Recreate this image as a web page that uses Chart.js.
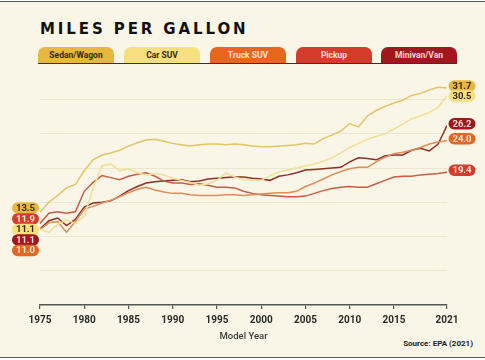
<!DOCTYPE html>
<html>
<head>
<meta charset="utf-8">
<script src="https://cdn.jsdelivr.net/npm/chart.js@4.4.0/dist/chart.umd.min.js"></script>
<style>
  html, body { margin: 0; padding: 0; background: #fff; }
  #wrap { position: absolute; left: 0; top: 1px; width: 485px; height: 355px;
          background: #f9f6e7; border-top: 1.5px solid #5a5a5a; border-bottom: 1.5px solid #5a5a5a; }
  #title { position: absolute; left: 40px; top: 20px; font: bold 15px "DejaVu Sans", sans-serif;
           letter-spacing: 2.9px; color: #111; }
  .tab { position: absolute; top: 47px; height: 16px; width: 76px; border-radius: 7px 7px 0 0;
         font: bold 8.5px "Roboto", "Liberation Sans", sans-serif; text-align: center; line-height: 17px; }
  #rule { position: absolute; left: 38px; top: 62.5px; width: 419px; height: 1.5px; background: #333; }
  #source { position: absolute; right: 12px; top: 339px; font: bold 8px "Roboto", "Liberation Sans", sans-serif; color: #222; }
  canvas { position: absolute; left: 0; top: 0; }
</style>
</head>
<body>
<div id="wrap"></div>
<div id="title">MILES PER GALLON</div>
<div id="tabs"></div>
<div id="rule"></div>
<div id="source">Source: EPA (2021)</div>
<canvas id="grafica" width="485" height="360"></canvas>
<script>
// dades llegides de la gràfica (EPA 2021)
const years = [1975, 1976, 1977, 1978, 1979, 1980, 1981, 1982, 1983, 1984, 1985, 1986, 1987, 1988, 1989, 1990,
  1991, 1992, 1993, 1994, 1995, 1996, 1997, 1998, 1999, 2000, 2001, 2002, 2003, 2004, 2005, 2006, 2007, 2008,
  2009, 2010, 2011, 2012, 2013, 2014, 2015, 2016, 2017, 2018, 2019, 2020, 2021];
const tickYears = [1975, 1980, 1985, 1990, 1995, 2000, 2005, 2010, 2015, 2021];
const gridValues = [5, 10, 15, 20, 25, 30];

const seriesNames = ["Sedan/Wagon", "Car SUV", "Truck SUV", "Pickup", "Minivan/Van"];

const sedanWagon = [13.5, 15.0, 16.0, 17.1, 17.6, 19.6, 21.2, 21.9, 22.2, 22.6, 23.2, 23.7, 24.1, 24.2, 23.9, 23.6,
  23.4, 23.2, 23.4, 23.5, 23.5, 23.4, 23.5, 23.4, 23.2, 23.1, 23.1, 23.2, 23.3, 23.4, 23.6, 23.5, 24.3, 24.8,
  25.4, 26.5, 26.0, 27.6, 28.4, 29.0, 29.5, 29.9, 30.6, 30.9, 31.4, 31.8, 31.7];
const carSuv = [11.1, 10.6, 11.8, 12.4, 11.9, 13.0, 17.0, 20.3, 20.6, 19.6, 19.9, 19.3, 19.0, 19.2, 19.0, 18.5,
  18.2, 17.9, 17.5, 17.7, 18.2, 19.3, 18.7, 18.3, 18.2, 18.2, 18.9, 19.4, 19.7, 20.0, 20.3, 20.6, 21.0, 21.5,
  22.2, 23.0, 23.6, 24.2, 24.6, 25.0, 25.7, 26.4, 27.2, 27.6, 28.1, 28.9, 30.5];
const truckSuv = [11.0, 12.0, 12.2, 10.6, 12.2, 14.0, 14.4, 14.9, 15.3, 15.8, 16.4, 16.9, 17.2, 16.8, 16.5, 16.3,
  16.3, 16.1, 16.0, 16.0, 16.0, 16.1, 16.1, 16.0, 16.1, 16.2, 16.3, 16.4, 16.4, 16.6, 17.3, 17.8, 18.4, 19.0,
  19.5, 19.9, 20.1, 20.1, 20.9, 21.6, 22.1, 22.3, 22.6, 23.0, 23.5, 23.8, 24.0];
const pickup = [11.9, 13.4, 13.6, 13.4, 13.6, 16.6, 17.9, 18.9, 18.6, 18.3, 18.8, 19.1, 19.3, 18.8, 18.1, 17.8,
  17.8, 17.6, 17.7, 17.5, 17.2, 17.2, 17.1, 16.6, 16.3, 16.1, 16.0, 15.9, 15.8, 15.8, 15.9, 16.3, 16.7, 17.0,
  17.2, 17.3, 17.2, 17.2, 17.7, 18.2, 18.7, 18.8, 18.8, 19.0, 19.1, 19.2, 19.4];
const minivanVan = [11.1, 12.3, 12.7, 11.6, 12.5, 14.3, 14.9, 15.0, 15.2, 15.9, 16.7, 17.3, 17.8, 18.0, 18.1, 18.2,
  18.3, 18.0, 18.1, 18.4, 18.5, 18.6, 18.7, 18.7, 18.5, 18.4, 18.2, 18.8, 19.0, 19.3, 19.7, 19.8, 19.9, 20.0,
  20.1, 20.9, 21.5, 21.4, 21.2, 21.8, 21.9, 21.9, 22.6, 22.9, 22.5, 23.5, 26.2];

const tabColors = ["#e6b83f", "#f6df7e", "#e8651f", "#d63c2c", "#a2161d"];
const tabText = ["#3a2808", "#3a2808", "#fbe3d2", "#fbe3d2", "#f7d8d2"];
const lineColors = ["#e4c466", "#f0df96", "#df8c58", "#c95c42", "#8f3028"];

// pestanyes de la llegenda
const tabLeft = [38, 124, 210, 296, 381];
const tabs = document.getElementById("tabs");
seriesNames.forEach((n, i) => {
  const d = document.createElement("div");
  d.className = "tab";
  d.style.left = tabLeft[i] + "px";
  d.style.background = tabColors[i];
  d.style.color = tabText[i];
  d.textContent = n;
  tabs.appendChild(d);
});

const allSeries = [sedanWagon, carSuv, truckSuv, pickup, minivanVan];

const data = {
  labels: years,
  datasets: allSeries.map((s, i) => ({
    label: seriesNames[i],
    data: s,
    borderColor: lineColors[i],
    borderWidth: 1.5,
    pointRadius: 0,
    tension: 0,
    fill: false
  }))
};

// separa les etiquetes perquè no es trepitgin
function spread(items, gap, k) {
  items.sort((a, b) => a.y - b.y);
  const nat = items.reduce((s, it) => s + it.y, 0) / items.length;
  items.forEach(it => it.py = it.y);
  for (let i = 1; i < items.length; i++) {
    if (items[i].py - items[i - 1].py < gap) items[i].py = items[i - 1].py + gap;
  }
  const placed = items.reduce((s, it) => s + it.py, 0) / items.length;
  const shift = (placed - nat) * k;
  items.forEach(it => it.py -= shift);
  return items;
}

function pill(ctx, cx, cy, text, bg, fg) {
  const w = 27, h = 11.5, r = 5.75;
  ctx.beginPath();
  ctx.roundRect(cx - w / 2, cy - h / 2, w, h, r);
  ctx.fillStyle = bg;
  ctx.fill();
  ctx.fillStyle = fg;
  ctx.font = "bold 9.5px Roboto, 'Liberation Sans', sans-serif";
  ctx.textAlign = "center";
  ctx.textBaseline = "middle";
  ctx.fillText(text, cx, cy + 0.5);
}

const endLabels = {
  id: "endLabels",
  afterDatasetsDraw(chart) {
    const ctx = chart.ctx;
    const ys = chart.scales.y;
    const left = [], right = [];
    chart.data.datasets.forEach((ds, i) => {
      const first = ds.data[0], last = ds.data[ds.data.length - 1];
      left.push({ i: i, v: first, y: ys.getPixelForValue(first) });
      right.push({ i: i, v: last, y: ys.getPixelForValue(last) });
    });
    ctx.save();
    spread(left, 10.5, 0.5).forEach(it => pill(ctx, 25.5, it.py, it.v.toFixed(1), tabColors[it.i], tabText[it.i]));
    spread(right, 10, 1).forEach(it => pill(ctx, 462, it.py - 1.5, it.v.toFixed(1), tabColors[it.i], tabText[it.i]));
    ctx.restore();
  }
};

const config = {
  type: "line",
  data: data,
  plugins: [endLabels],
  options: {
    responsive: false,
    animation: false,
    layout: { padding: { left: 40, right: 38, top: 79, bottom: 0 } },
    plugins: { legend: { display: false }, tooltip: { enabled: false } },
    scales: {
      x: {
        type: "linear",
        min: 1975,
        max: 2021,
        afterBuildTicks: (s) => { s.ticks = tickYears.map(v => ({ value: v })); },
        afterFit: (s) => { s.height = 55; },
        grid: { drawOnChartArea: false, drawTicks: true, tickLength: 4, color: "#555", lineWidth: 1.2 },
        border: { display: true, color: "#555", width: 1.5 },
        ticks: {
          callback: (v) => String(v),
          color: "#2a2a2a",
          padding: 5,
          maxRotation: 0,
          autoSkip: false,
          font: { family: "Roboto, 'Liberation Sans', sans-serif", size: 10, weight: "bold" }
        },
        title: {
          display: true,
          text: "Model Year",
          color: "#3a3a3a",
          padding: { top: 0, bottom: 18 },
          font: { family: "Roboto, 'Liberation Sans', sans-serif", size: 9.5, weight: "500" }
        }
      },
      y: {
        min: 0,
        max: 33,
        afterBuildTicks: (s) => { s.ticks = gridValues.map(v => ({ value: v })); },
        afterFit: (s) => { s.width = 0; },
        ticks: { display: false },
        grid: { color: "#ece5cf", lineWidth: 1, drawTicks: false },
        border: { display: false }
      }
    }
  }
};

const grafica = document.getElementById("grafica");
let myChart = new Chart(grafica, config);
</script>
</body>
</html>
